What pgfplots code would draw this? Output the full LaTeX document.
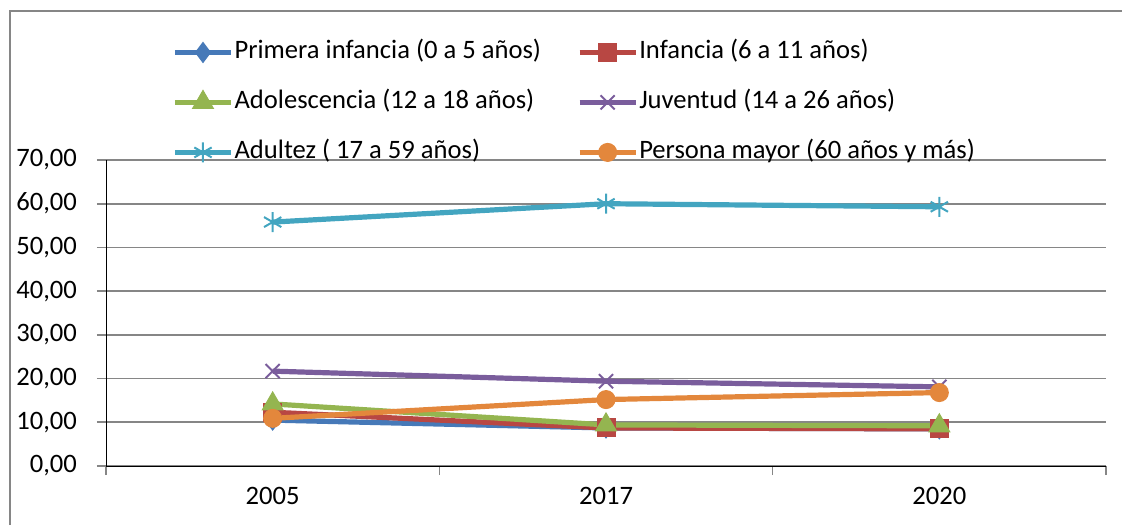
\documentclass[border=0pt]{standalone}
\usepackage{fontspec}
\setmainfont{Carlito}
\usepackage{pgfplots}
\pgfplotsset{compat=1.18}
\definecolor{cBlue}{HTML}{4679B8}
\definecolor{cRed}{HTML}{B84743}
\definecolor{cGreen}{HTML}{94B550}
\definecolor{cPurple}{HTML}{7A5D9C}
\definecolor{cCyan}{HTML}{43A5C0}
\definecolor{cOrange}{HTML}{E3873C}
\definecolor{cGrid}{HTML}{868686}

\begin{document}
\begin{tikzpicture}[font=\fontsize{13.3}{15}\selectfont]
  \useasboundingbox (0,0) rectangle (561pt,262.5pt);
  \draw[cGrid,line width=0.8pt] (5pt,0) -- (5pt,257pt) -- (561pt,257pt);
  \begin{axis}[
    at={(53pt,29.5pt)},anchor=south west,
    scale only axis,width=500pt,height=153pt,
    xmin=-0.5,xmax=2.5,ymin=0,ymax=70,
    ytick={0,10,...,70},
    xtick={-0.5,0.5,1.5,2.5},xticklabels={},
    extra x ticks={0,1,2},
    extra x tick labels={2005,2017,2020},
    extra x tick style={major tick length=0pt,
      xticklabel style={yshift=-7pt}},
    axis lines*=left,
    tick align=outside,
    major tick length=4.5pt,
    tick style={cGrid,line width=0.8pt},
    every axis line/.style={cGrid,line width=0.8pt},
    ymajorgrids,
    grid style={cGrid,line width=0.8pt},
    yticklabel style={xshift=-6.5pt,
      /pgf/number format/fixed,/pgf/number format/fixed zerofill,
      /pgf/number format/precision=2,/pgf/number format/use comma,
      /pgf/number format/assume math mode=true},
    every tick label/.style={font=\fontsize{13.3}{15}\selectfont},
    legend columns=2,
    legend style={at={(0.066,1.397)},anchor=north west,draw=none,fill=none,
      inner sep=0pt,font=\fontsize{13.3}{15}\selectfont,
      nodes={inner sep=0.5pt,text height=9.5pt,text depth=3pt},
      row sep=11.5pt,
      /tikz/every even column/.append style={column sep=17.5pt}},
    legend cell align=left,
    legend image code/.code={\draw[mark repeat=2,mark phase=2]
      plot coordinates {(0pt,0pt) (14pt,0pt) (28pt,0pt)};},
    every axis plot/.append style={line width=2.6pt},
  ]
    \addplot[cBlue,mark=diamond*,mark size=5pt,mark options={line width=0.5pt,fill=cBlue}]
      coordinates {(0,10.5) (1,8.7) (2,8.5)};
    \addplot[cRed,mark=square*,mark size=4.5pt,mark options={line width=0.5pt,fill=cRed}]
      coordinates {(0,12.3) (1,8.7) (2,8.5)};
    \addplot[cGreen,mark=triangle*,mark size=6pt,mark options={line width=0.5pt,fill=cGreen}]
      coordinates {(0,14.2) (1,9.4) (2,9.2)};
    \addplot[cPurple,mark=x,mark size=5pt,mark options={line width=1pt}]
      coordinates {(0,21.7) (1,19.4) (2,18.1)};
    \addplot[cCyan,mark=asterisk,mark size=5pt,mark options={line width=1pt}]
      coordinates {(0,55.8) (1,60.0) (2,59.3)};
    \addplot[cOrange,mark=*,mark size=4.5pt,mark options={line width=0.5pt,fill=cOrange}]
      coordinates {(0,10.9) (1,15.2) (2,16.8)};
    \legend{Primera infancia (0 a 5 años),Infancia (6 a 11 años),
      Adolescencia (12 a 18 años),Juventud (14 a 26 años),
      Adultez ( 17 a 59 años),Persona mayor (60 años y más)}
  \end{axis}
\end{tikzpicture}
\end{document}
